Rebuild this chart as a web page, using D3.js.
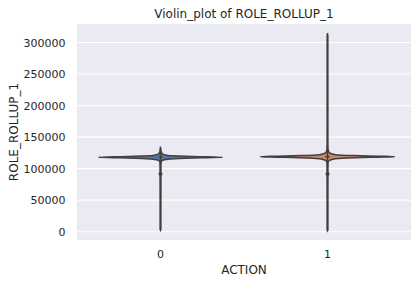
<!DOCTYPE html>
<html><head><meta charset="utf-8">
<script src="https://cdn.jsdelivr.net/npm/d3@7"></script>
<style>body{margin:0;background:#fff}svg{display:block}text{font-family:"DejaVu Sans",sans-serif;fill:#262626}</style>
</head><body><svg id="c" width="417" height="284"></svg>
<script>
const categories = ["0", "1"];
const yTicks = [0, 50000, 100000, 150000, 200000, 250000, 300000];
// density profiles (value, relative half-width)
const density0 = [[2500,0],[4000,0.004],[50000,0.004],[87000,0.005],[90000,0.012],[91500,0.02],[93000,0.012],[96000,0.005],[110000,0.008],[113000,0.03],[115000,0.12],[116500,0.4],[117400,0.75],[118000,1.0],[118700,0.75],[119700,0.4],[121000,0.12],[123500,0.03],[127000,0.01],[131000,0.004],[135000,0]];
const density1 = [[1500,0],[3000,0.004],[50000,0.004],[87000,0.005],[90000,0.012],[91500,0.02],[93000,0.012],[96000,0.005],[110000,0.008],[113000,0.03],[115500,0.12],[117200,0.4],[118200,0.75],[118900,1.0],[119700,0.75],[120700,0.4],[122200,0.12],[125000,0.03],[129000,0.01],[140000,0.004],[250000,0.003],[310000,0.003],[315000,0]];
const maxHalfWidth = [62, 67];
const boxStats = [{q1:117400,q3:119200,lo:2500,hi:131000},{q1:117800,q3:120200,lo:1500,hi:312000}];
const colors = ["#5975a4", "#cc8963"];

const svg = d3.select("#c");
const L = 77, R = 411, T = 24, B = 240;
svg.append("rect").attr("x", L).attr("y", T).attr("width", R - L).attr("height", B - T).attr("fill", "#eaeaf2");
const y = d3.scaleLinear().domain([-13200, 329400]).range([B, T]);
const x = d3.scaleBand().domain(categories).range([L, R]);

svg.append("g").selectAll("line").data(yTicks).join("line")
  .attr("x1", L).attr("x2", R).attr("y1", d => y(d)).attr("y2", d => y(d))
  .attr("stroke", "#fff").attr("stroke-width", 1.1);

const yAxis = svg.append("g").attr("transform", `translate(${L},0)`)
  .call(d3.axisLeft(y).tickValues(yTicks).tickSize(0).tickPadding(11.5).tickFormat(d3.format("d")));
yAxis.select(".domain").remove();
yAxis.selectAll("text").attr("font-size", 11).attr("fill", "#262626").style("font-family", "DejaVu Sans");

const xAxis = svg.append("g").attr("transform", `translate(0,${B})`)
  .call(d3.axisBottom(x).tickSize(0).tickPadding(10));
xAxis.select(".domain").remove();
xAxis.selectAll("text").attr("font-size", 11).attr("fill", "#262626").style("font-family", "DejaVu Sans");

const dens = [density0, density1];
categories.forEach((c, i) => {
  const cx = x(c) + x.bandwidth() / 2;
  const w = d3.scaleLinear().domain([0, 1]).range([0, maxHalfWidth[i]]);
  const area = d3.area().curve(d3.curveMonotoneY)
    .y(d => y(d[0])).x0(d => cx - w(d[1])).x1(d => cx + w(d[1]));
  svg.append("path").datum(dens[i]).attr("d", area)
    .attr("fill", colors[i]).attr("stroke", "#3f3f3f").attr("stroke-width", 1.5);
  const b = boxStats[i];
  svg.append("line").attr("x1", cx).attr("x2", cx).attr("y1", y(b.lo)).attr("y2", y(b.hi))
    .attr("stroke", "#3f3f3f").attr("stroke-width", 1.5);
  svg.append("line").attr("x1", cx).attr("x2", cx).attr("y1", y(b.q1)).attr("y2", y(b.q3))
    .attr("stroke", "#3f3f3f").attr("stroke-width", 4.5);
});

svg.append("text").attr("x", (L + R) / 2).attr("y", 17.5).attr("text-anchor", "middle")
  .attr("font-size", 12).text("Violin_plot of ROLE_ROLLUP_1");
svg.append("text").attr("x", (L + R) / 2).attr("y", 274).attr("text-anchor", "middle")
  .attr("font-size", 12).text("ACTION");
svg.append("text").attr("transform", `translate(18,${(T + B) / 2}) rotate(-90)`).attr("text-anchor", "middle")
  .attr("font-size", 12).text("ROLE_ROLLUP_1");
</script></body></html>
